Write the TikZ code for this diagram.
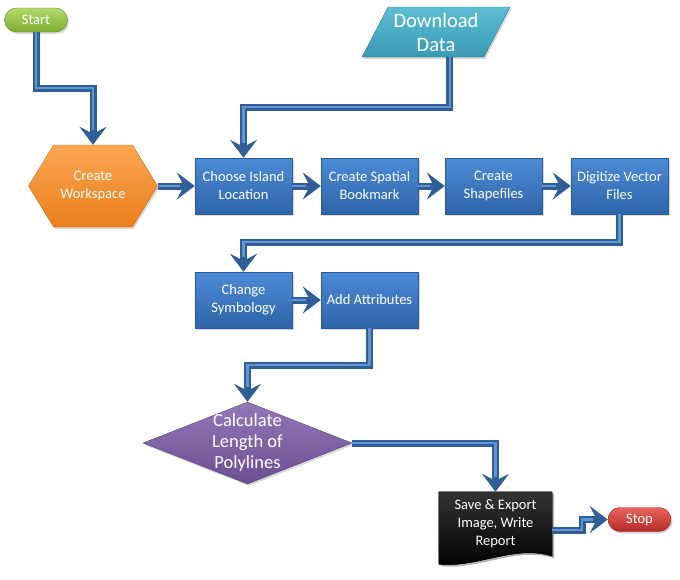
\documentclass[tikz,border=0pt]{standalone}
\usepackage{fontspec}
\setmainfont{Carlito}
\usetikzlibrary{shapes.geometric,shapes.symbols,shapes.misc,arrows.meta,shadows,backgrounds,calc}

\definecolor{proctop}{HTML}{4C8BD6}
\definecolor{procbot}{HTML}{2E64A8}
\definecolor{procline}{HTML}{2A5A94}
\definecolor{flowdark}{HTML}{2F5F96}
\definecolor{flowlight}{HTML}{5F95D2}
\definecolor{starttop}{HTML}{B2D96C}
\definecolor{startbot}{HTML}{7BAE30}
\definecolor{stoptop}{HTML}{E8645E}
\definecolor{stopbot}{HTML}{B52B25}
\definecolor{datatop}{HTML}{5EBDD4}
\definecolor{databot}{HTML}{3A9AB4}
\definecolor{wstop}{HTML}{FBA652}
\definecolor{wsbot}{HTML}{EA7F1C}
\definecolor{calctop}{HTML}{9379B9}
\definecolor{calcbot}{HTML}{6B4F91}

\begin{document}
\begin{tikzpicture}[x=1pt,y=-1pt,
    every node/.style={text=white, align=center, font=\fontsize{14.5}{18}\selectfont},
    shade/.style={drop shadow={opacity=0.3,shadow xshift=1.5pt,shadow yshift=-2pt}},
    procbox/.style={rectangle, draw=procline, top color=proctop, bottom color=procbot,
        minimum width=97pt, minimum height=56pt, inner sep=1pt, shade},
    termbox/.style={rounded rectangle, minimum width=65pt, minimum height=24pt, inner sep=1pt, shade},
    flow/.style={draw=flowdark, line width=7pt, line join=miter,
        -{Stealth[length=18pt,width=27pt,inset=7pt]},
        postaction={draw=flowlight, line width=2.5pt, -, shorten >=15pt}},
]
\useasboundingbox (0,0) rectangle (680,579);

% terminals
\node[termbox, draw=startbot!80!black, top color=starttop, bottom color=startbot] (start) at (36,20) {Start};
\node[termbox, draw=stopbot!80!black, top color=stoptop, bottom color=stopbot] (stop) at (639.5,519.5) {Stop};

% input and preparation
\node[trapezium, trapezium stretches=true, trapezium left angle=59, trapezium right angle=121,
    minimum width=148pt, minimum height=50pt, inner sep=0pt, draw=databot!80!black,
    top color=datatop, bottom color=databot, shade,
    font=\fontsize{20.5}{24}\selectfont] (data) at (436,32) {Download\\Data};
\node[signal, signal to=west and east, signal pointer angle=117, minimum width=129pt,
    minimum height=82pt, inner sep=0pt, draw=wsbot!85!black,
    top color=wstop, bottom color=wsbot, shade] (ws) at (93,186) {Create\\Workspace};

% processes
\node[procbox] (choose) at (243.5,186) {Choose Island\\Location};
\node[procbox] (bookmark) at (369.5,186) {Create Spatial\\Bookmark};
\node[procbox] (shapes) at (493.5,186) {Create\\Shapefiles};
\node[procbox] (digit) at (619.5,186) {Digitize Vector\\Files};
\node[procbox] (symb) at (243.5,300) {Change\\Symbology};
\node[procbox] (attr) at (369.5,300) {Add Attributes};

% decision and report
\node[diamond, minimum width=209pt, minimum height=82pt, inner sep=-12pt, aspect=2.55,
    draw=calcbot!85!black, top color=calctop, bottom color=calcbot,
    shade, font=\fontsize{18.5}{21}\selectfont] (calc) at (247.5,443) {Calculate\\Length of\\Polylines};
\node[rectangle, minimum width=113pt, minimum height=64pt, inner sep=1pt] (save) at (495.5,524) {Save \& Export\\Image, Write\\Report};
\begin{scope}[on background layer]
    \fill[black, opacity=0.3] ([shift={(2,2)}]save.north west) -- ([shift={(2,2)}]save.north east)
        -- ([shift={(2,2)}]save.south east)
        .. controls ([shift={(-35,-10)}]save.south east) and ([shift={(40,14)}]save.south west) ..
        ([shift={(2,10)}]save.south west) -- cycle;
    \fill[top color=black!80, bottom color=black, draw=black] (save.north west) -- (save.north east) -- (save.south east)
        .. controls ([shift={(-37,-12)}]save.south east) and ([shift={(38,12)}]save.south west) ..
        ($(save.south west)+(0,8)$) -- cycle;
\end{scope}

% connectors
\draw[flow] (start.south) -- ++(0,56) -| (ws.north);
\draw[flow] (ws.east) -- (choose.west);
\draw[flow] ($(data.bottom left corner)!0.72!(data.bottom right corner)$) -- ++(0,50) -| (choose.north);
\draw[flow] (choose.east) -- (bookmark.west);
\draw[flow] (bookmark.east) -- (shapes.west);
\draw[flow] (shapes.east) -- (digit.west);
\draw[flow] (digit.south) -- ++(0,28) -| (symb.north);
\draw[flow] (symb.east) -- (attr.west);
\draw[flow] (attr.south) -- ++(0,37) -| (calc.north);
\draw[flow] (calc.east) -| (save.north);
\draw[flow] ([yshift=-6pt]save.east) -- ++(30,0) |- (stop.west);
\end{tikzpicture}
\end{document}
